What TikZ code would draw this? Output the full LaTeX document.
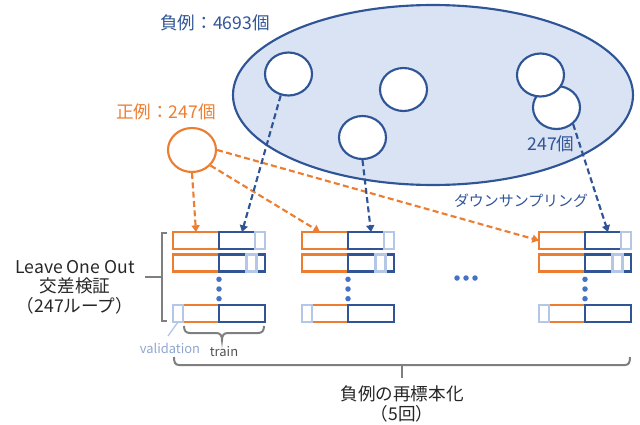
\documentclass[tikz,border=0pt]{standalone}
\usepackage{fontspec}
\setmainfont{Noto Sans CJK JP}
\usetikzlibrary{arrows.meta,shapes.geometric}
\definecolor{cblue}{HTML}{2F5597}
\definecolor{corange}{HTML}{ED7D31}
\definecolor{clight}{HTML}{DAE3F3}
\definecolor{cval}{HTML}{B4C7E7}
\definecolor{cvaltext}{HTML}{8FA6D0}
\definecolor{cdot}{HTML}{4472C4}
\definecolor{cgray}{HTML}{7F7F7F}
\definecolor{ctext}{HTML}{262626}
\begin{document}
\begin{tikzpicture}[x=0.75pt,y=-0.75pt,
  bigfont/.style={font=\fontsize{13.2}{14.6}\selectfont},
  innerline/.style={append after command={\pgfextra{\draw[black!30, line width=0.45pt] ([shift={(1.5pt,-1.5pt)}]\tikzlastnode.north west) rectangle ([shift={(-1.5pt,1.5pt)}]\tikzlastnode.south east);}}},
  orect/.style={rectangle, draw=corange, fill=white, line width=1.8pt, outer sep=0pt, minimum width=46*0.75pt, minimum height=17*0.75pt, inner sep=0pt, innerline},
  brect/.style={rectangle, draw=cblue, fill=white, line width=1.8pt, outer sep=0pt, minimum width=46*0.75pt, minimum height=17*0.75pt, inner sep=0pt, innerline},
  vrect/.style={rectangle, draw=cval, fill=white, line width=1.8pt, outer sep=0pt, minimum width=10*0.75pt, minimum height=17*0.75pt, inner sep=0pt, innerline},
  smallc/.style={ellipse, draw=cblue, fill=white, line width=1.6pt, minimum width=47*0.75pt, minimum height=43*0.75pt, inner sep=0pt},
  dotn/.style={circle, fill=cdot, minimum size=5.5*0.75pt, inner sep=0pt},
  oarrow/.style={draw=corange, line width=1.6pt, dash pattern=on 4.5pt off 2.5pt, -{Triangle[length=5pt,width=6pt]}},
  barrow/.style={draw=cblue, line width=1.6pt, dash pattern=on 4.5pt off 2.5pt, -{Triangle[length=5pt,width=6pt]}},
  bracketline/.style={draw=cgray, line width=1.5pt}
]
\useasboundingbox (0,0) rectangle (640,425);

% big ellipse of negatives
\node[ellipse, draw=cblue, fill=clight, line width=1.6pt, minimum width=400*0.75pt, minimum height=180*0.75pt, inner sep=0pt] (ell) at (433,95) {};
\node[smallc] (c1) at (288.5,74) {};
\node[smallc] (c2) at (403.5,89.5) {};
\node[smallc] (c3) at (362.5,137.5) {};
\node[smallc] (c5) at (556.5,107.5) {};
\node[smallc] (c4) at (540.5,75) {};

% positive circle
\node[ellipse, draw=corange, fill=white, line width=1.6pt, minimum width=48*0.75pt, minimum height=44*0.75pt, inner sep=0pt] (oc) at (192,150) {};

% labels
\node[bigfont, text=cblue] (neg) at (215,23) {負例：4693個};
\node[bigfont, text=corange] (pos) at (166,112) {正例：247個};
\node[bigfont, text=cblue] (n247) at (551,144) {247個};
\node[font=\fontsize{11.2}{13}\selectfont, text=cblue] (ds) at (521,201) {ダウンサンプリング};

% rectangle groups
\foreach \g/\gx in {1/173,2/302,3/539} {
  \node[orect] (o\g-1) at ({\gx+23},240.5) {};
  \node[brect] (b\g-1) at ({\gx+69},240.5) {};
  \node[vrect] (v\g-1) at ({\gx+87},240.5) {};
  \node[orect] (o\g-2) at ({\gx+23},263) {};
  \node[brect] (b\g-2) at ({\gx+69},263) {};
  \node[vrect] (v\g-2) at ({\gx+78.5},263) {};
  \node[orect] (o\g-3) at ({\gx+23},313.5) {};
  \node[brect] (b\g-3) at ({\gx+69},313.5) {};
  \node[vrect] (v\g-3) at ({\gx+5},313.5) {};
  \node[dotn] (d\g-1) at ({\gx+46},279.3) {};
  \node[dotn] (d\g-2) at ({\gx+46},289) {};
  \node[dotn] (d\g-3) at ({\gx+46},298.7) {};
}
\node[dotn] (h1) at (457,278) {};
\node[dotn] (h2) at (466,278) {};
\node[dotn] (h3) at (475,278) {};

% arrows
\draw[oarrow] (oc.south) -- (o1-1.north);
\draw[oarrow] (oc.-40) -- ([xshift=-3.75pt]o2-1.north);
\draw[oarrow] (oc.east) -- (o3-1.west);
\draw[barrow] (c1.-110) -- (b1-1.north);
\draw[barrow] (c3.south) -- (b2-1.north);
\draw[barrow] (c5.-45) -- (b3-1.north);

% left bracket
\draw[bracketline] (167,233) -- (162,233) -- (162,321) -- (167,321);
\draw[bracketline] (162,277) -- (145,277);
\node[bigfont, text=ctext, align=center] (loo) at (75,287) {Leave One Out\\交差検証\\（247ループ）};

% validation / train
\node[font=\fontsize{9.7}{11}\selectfont, text=cvaltext] (val) at (170,348) {validation};
\coordinate (vl) at (168,336);
\draw[draw=cval, line width=1pt] (vl) -- (v1-3.south);
\draw[bracketline] (184,326) .. controls (184,331) and (186,333) .. (190,333) -- (216,333) .. controls (220,333) and (222,335) .. (222,340) .. controls (222,335) and (224,333) .. (228,333) -- (258,333) .. controls (262,333) and (264,331) .. (264,326);
\node[font=\fontsize{9.7}{11}\selectfont, text=ctext!80] (train) at (224,352) {train};

% bottom brace
\draw[bracketline] (174,357) .. controls (174,362) and (175,365) .. (179,365) -- (625,365) .. controls (629,365) and (630,362) .. (630,357);
\draw[bracketline] (402,365) -- (402,378);
\node[bigfont, text=ctext, align=center] (res) at (402,404) {負例の再標本化\\（5回）};
\end{tikzpicture}
\end{document}
